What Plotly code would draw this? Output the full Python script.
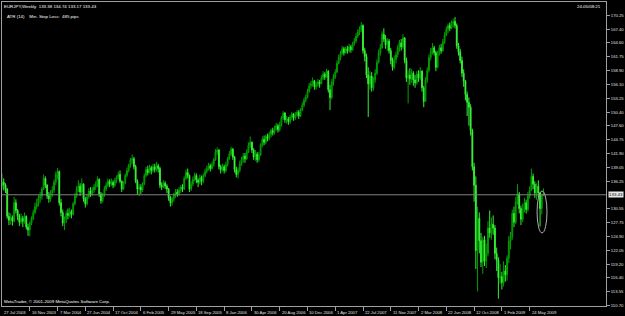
import pandas as pd
import plotly.graph_objects as go

# ---- data: EURJPY weekly candles ----
start_date = "2003-07-27"
first_open = 135.2
close = [
    136.0,135.5,134.6,129.0,128.2,128.8,128.0,131.8,130.2,129.0,
    127.8,128.6,128.0,129.0,126.8,126.2,127.6,128.5,129.8,131.0,
    131.6,132.8,133.2,134.6,136.8,135.4,133.2,132.6,133.8,134.4,
    136.0,137.6,138.2,131.8,129.8,127.6,128.4,129.6,129.2,130.0,
    129.4,131.6,133.2,134.6,135.2,134.0,135.6,132.6,131.6,133.0,
    134.2,133.6,134.4,135.0,135.6,136.6,133.6,132.2,133.4,134.6,
    135.4,136.2,135.6,136.0,135.4,136.4,137.0,137.6,136.2,134.6,
    135.8,137.4,138.4,139.4,140.6,140.8,139.2,136.2,134.6,135.0,
    134.4,135.6,137.4,138.6,138.0,139.0,138.4,139.2,138.6,139.4,
    138.8,135.4,135.0,135.8,135.2,134.6,132.8,131.8,132.6,133.4,
    134.0,133.6,134.4,135.0,134.6,136.8,138.0,137.4,134.6,135.6,
    136.6,137.4,136.4,136.0,137.0,136.2,137.4,138.2,138.8,139.4,
    138.8,139.6,140.6,142.2,142.6,139.2,138.6,139.2,138.4,139.6,
    140.8,141.8,142.8,141.2,138.6,137.6,138.4,139.8,140.6,141.4,
    140.8,142.2,143.6,144.2,142.6,141.2,141.8,140.6,141.6,143.6,
    144.8,144.2,145.4,145.0,145.8,146.6,146.2,147.0,147.6,146.8,
    147.8,149.2,150.2,148.8,149.0,148.4,149.4,150.0,149.2,149.8,
    150.4,149.6,150.8,151.8,152.8,153.4,154.6,155.8,156.2,156.8,
    155.6,156.0,156.6,156.2,157.4,158.2,157.6,158.8,155.0,153.4,
    156.6,157.6,158.6,160.4,161.6,162.4,163.4,162.6,163.4,163.0,
    163.8,163.2,164.4,165.0,166.0,166.8,167.4,168.2,163.0,161.8,
    158.0,156.2,157.8,155.4,157.0,158.4,160.6,162.6,163.6,166.4,
    165.4,164.2,165.0,163.0,161.0,159.6,161.2,162.2,163.6,164.6,
    163.8,165.6,161.0,157.4,158.0,157.2,158.4,157.0,156.4,158.2,
    157.4,158.8,155.4,152.6,157.0,159.0,161.6,162.8,163.6,162.6,
    159.6,162.4,163.6,163.0,164.8,166.2,167.4,168.2,167.6,168.6,
    169.0,168.2,164.0,162.8,161.0,158.4,156.8,154.0,152.4,151.4,
    146.6,139.2,135.4,122.0,128.6,124.0,119.6,124.2,119.8,121.4,
    126.6,125.6,127.4,126.6,121.4,120.0,116.4,116.6,115.4,117.8,
    117.0,120.4,124.0,124.8,129.6,127.8,132.0,133.6,130.6,128.4,
    130.4,131.8,130.4,133.2,134.4,137.2,135.6,133.8,135.2,133.8,
    130.6,133.38,133.43]
high = [
    137.8,136.8,135.8,134.8,129.8,129.6,129.2,133.0,132.5,130.5,
    129.5,129.6,129.1,129.8,129.2,127.5,128.0,129.0,130.4,131.8,
    132.6,133.4,134.0,135.0,137.6,137.2,135.6,134.0,134.4,135.2,
    136.6,138.2,138.9,138.4,132.6,130.4,129.0,130.2,130.6,130.8,
    130.4,132.0,133.8,135.2,136.4,135.8,136.8,135.8,133.0,133.6,
    134.8,135.0,135.0,135.6,136.2,137.2,136.8,134.0,133.8,135.2,
    136.0,136.8,136.6,136.8,136.4,136.9,137.4,138.2,138.4,136.4,
    136.2,137.8,139.0,139.8,141.0,141.7,141.2,139.6,136.6,135.6,
    135.6,136.0,137.8,139.2,139.4,139.6,139.4,139.8,139.8,140.2,
    139.8,139.2,136.0,136.4,136.2,135.6,134.8,133.2,133.0,133.8,
    134.6,134.6,135.0,135.4,135.6,137.2,138.6,138.8,137.6,136.2,
    137.2,138.0,137.8,136.8,137.6,137.4,137.8,138.8,139.4,140.0,
    139.8,140.2,141.0,142.8,143.2,142.8,139.6,139.8,139.6,140.2,
    141.2,142.4,143.3,143.0,141.4,139.2,139.0,140.4,141.2,142.0,
    142.0,142.8,144.2,145.4,144.4,143.0,142.6,142.2,142.2,144.0,
    145.4,145.6,145.8,146.0,146.4,147.0,147.2,147.6,148.2,148.0,
    148.4,149.6,150.6,150.4,149.6,149.4,149.8,150.4,150.2,150.4,
    150.8,150.8,151.2,152.4,153.4,154.0,155.2,156.4,156.8,157.5,
    157.0,156.6,157.2,157.0,158.0,158.8,158.6,159.3,159.0,156.0,
    157.2,158.2,159.2,161.0,162.2,163.0,164.0,163.8,163.8,164.0,
    164.4,164.2,164.8,165.6,166.6,167.4,168.0,168.9,168.4,163.6,
    162.4,159.6,158.8,158.6,157.6,159.2,161.2,163.2,164.4,167.0,
    167.6,166.2,165.6,165.4,163.6,161.6,162.0,162.8,164.2,165.2,
    165.4,166.4,165.8,161.6,159.0,159.4,159.2,158.8,158.0,158.8,
    159.0,159.6,159.0,155.8,157.6,159.6,162.2,163.6,164.6,164.0,
    163.0,163.0,164.2,164.4,165.4,166.8,168.0,168.6,168.8,169.2,
    169.6,169.9,168.6,164.6,163.4,161.8,159.2,157.0,154.6,153.4,
    152.0,147.0,140.0,137.2,131.0,129.8,125.6,124.8,125.0,123.4,
    128.0,130.2,128.8,129.2,127.2,122.6,120.6,119.2,117.6,119.8,
    119.0,121.0,125.0,125.8,130.4,131.0,133.0,135.6,134.0,131.2,
    131.6,132.8,132.4,134.0,135.2,138.8,137.8,136.2,135.8,136.4,
    134.0,133.6,134.74]
low = [
    134.5,134.3,133.8,128.5,127.2,127.3,127.1,127.8,129.6,128.2,
    127.0,127.4,126.8,127.5,126.3,125.0,124.9,127.2,128.2,129.4,
    130.4,131.0,131.8,132.4,134.4,134.8,132.6,131.8,132.0,133.0,
    133.8,135.4,136.6,131.2,129.0,127.0,126.2,127.6,128.4,128.8,
    128.6,129.2,131.2,132.8,134.0,133.2,133.6,132.0,130.8,131.2,
    132.6,133.0,133.2,133.8,134.4,135.0,133.0,131.6,131.8,133.0,
    134.2,135.0,135.0,135.2,134.8,135.0,135.8,136.6,135.8,134.0,
    134.4,135.6,137.0,138.0,139.0,139.8,138.6,135.8,133.4,133.2,
    133.6,134.0,135.4,137.0,137.4,137.8,137.6,138.0,138.0,138.2,
    138.0,134.8,134.4,134.8,134.6,133.8,132.2,131.0,131.2,132.0,
    132.8,133.0,133.2,133.8,134.0,134.4,136.4,136.8,134.0,134.2,
    135.2,136.2,135.8,135.0,135.6,135.4,135.8,137.0,137.8,138.4,
    138.2,138.6,139.2,140.4,141.6,138.6,137.8,138.2,137.8,138.0,
    139.2,140.6,141.4,140.6,138.0,137.0,136.8,138.0,139.4,140.0,
    140.0,140.6,142.0,143.0,142.0,140.6,140.4,140.0,140.2,141.4,
    143.2,143.6,143.8,144.4,144.6,145.2,145.6,145.8,146.6,146.2,
    146.4,147.4,148.8,148.2,148.0,147.8,148.0,148.8,148.6,148.8,
    149.4,149.0,149.4,150.6,151.4,152.4,153.2,154.4,155.2,155.6,
    155.0,155.0,155.6,155.4,156.2,157.0,157.0,157.4,154.4,150.8,
    153.0,155.8,157.2,158.4,160.2,161.0,162.2,162.0,162.4,162.4,
    162.6,162.6,163.0,164.0,164.6,165.6,166.2,166.8,162.4,160.8,
    157.4,149.4,155.0,154.6,154.8,156.4,158.0,160.4,162.0,163.4,
    164.8,163.4,163.0,162.4,160.2,158.9,159.2,160.4,161.6,162.8,
    163.0,163.4,160.4,156.6,152.2,156.0,156.4,155.8,155.4,156.0,
    156.6,157.0,154.6,151.4,152.6,156.4,158.6,161.0,162.2,162.0,
    158.8,159.4,162.0,162.4,162.8,164.4,166.0,166.6,167.0,167.4,
    167.8,167.6,163.4,162.0,160.4,157.6,155.6,152.8,149.6,147.6,
    145.6,138.4,132.0,118.2,113.6,121.4,118.6,117.2,118.8,118.4,
    120.8,124.6,124.2,125.2,120.2,117.8,112.1,115.2,114.0,114.6,
    115.6,115.8,119.4,122.2,124.2,126.8,127.4,131.4,129.6,127.2,
    127.8,129.8,129.6,130.0,132.6,134.2,134.6,132.8,132.4,133.0,
    126.9,129.4,133.17]

# right-axis price labels (133.40 is hidden behind the current-price box)
price_ticks = [170.25, 167.40, 164.60, 161.75, 158.90, 156.10, 153.25, 150.40,
               147.60, 144.75, 141.90, 139.05, 136.25, 130.55, 127.75,
               124.90, 122.05, 119.20, 116.40, 113.55, 110.70]
date_labels = ["27 Jul 2003", "16 Nov 2003", "7 Mar 2004", "27 Jun 2004",
               "17 Oct 2004", "6 Feb 2005", "29 May 2005", "18 Sep 2005",
               "8 Jan 2006", "30 Apr 2006", "20 Aug 2006", "10 Dec 2006",
               "1 Apr 2007", "22 Jul 2007", "11 Nov 2007", "2 Mar 2008",
               "22 Jun 2008", "12 Oct 2008", "1 Feb 2009", "24 May 2009"]
current_price = 133.43
header_text = "EURJPY,Weekly  133.38 134.74 133.17 133.43"
atr_text = "ATR (14)    Min. Stop Loss:  485 pips"
time_text = "24.05/08:21"
copyright_text = "MetaTrader, \u00a9 2001-2009 MetaQuotes Software Corp."

n = min(len(close), len(high), len(low))
close, high, low = close[:n], high[:n], low[:n]
opens = [first_open] + close[:-1]
dates = pd.date_range(start_date, periods=n, freq="7D")
d0 = dates[0]

FONT = "Liberation Sans"
TXT = "#e0e0e0"
AX = "#a0a0a0"

fig = go.Figure(go.Candlestick(
    x=dates, open=opens, high=high, low=low, close=close,
    increasing=dict(line=dict(color="#00a000", width=1), fillcolor="#006e00"),
    decreasing=dict(line=dict(color="#30f030", width=1), fillcolor="#a0ffa0"),
    whiskerwidth=0, showlegend=False, hoverinfo="skip",
))

tick_dates = pd.to_datetime(date_labels, format="%d %b %Y")

annotations = []
for lbl, d in zip(date_labels[1:], tick_dates[1:]):
    annotations.append(dict(x=d, xref="x", y=0, yref="paper", text=lbl,
                            showarrow=False, xanchor="left", yanchor="top",
                            yshift=-2, xshift=0, font=dict(size=4.2, color=TXT, family=FONT)))
annotations.append(dict(x=0, xref="paper", y=0, yref="paper", text=date_labels[0],
                        showarrow=False, xanchor="left", yanchor="top", yshift=-2, xshift=0,
                        font=dict(size=4.2, color=TXT, family=FONT)))
annotations += [
    dict(x=0, xref="paper", y=1, yref="paper", text=header_text, showarrow=False,
         xanchor="left", yanchor="top", xshift=0, yshift=0,
         font=dict(size=4.4, color="#ffffff", family=FONT)),
    dict(x=0, xref="paper", y=1, yref="paper", text=atr_text, showarrow=False,
         xanchor="left", yanchor="top", xshift=3, yshift=-10,
         font=dict(size=4.4, color="#ffffff", family=FONT)),
    dict(x=1, xref="paper", y=1, yref="paper", text=time_text, showarrow=False,
         xanchor="right", yanchor="top", xshift=-3, yshift=0,
         font=dict(size=4.4, color="#ffffff", family=FONT)),
    dict(x=0, xref="paper", y=0, yref="paper", text=copyright_text, showarrow=False,
         xanchor="left", yanchor="bottom", xshift=0, yshift=0,
         font=dict(size=4.4, color="#ffffff", family=FONT)),
    dict(x=1, xref="paper", y=current_price, yref="y", text=f"{current_price:.2f}",
         showarrow=False, xanchor="left", yanchor="middle", xshift=2,
         bgcolor="#e8e8e8", borderpad=0,
         font=dict(size=4.4, color="#000000", family=FONT)),
]

shapes = [
    dict(type="line", xref="paper", x0=0, x1=1, yref="y", y0=current_price, y1=current_price,
         line=dict(color="#808080", width=1)),
    dict(type="circle", xref="x", yref="y",
         x0=dates[n - 4] - pd.Timedelta(days=5), x1=dates[n - 1] + pd.Timedelta(days=14),
         y0=125.6, y1=134.2, line=dict(color="#b0b0b0", width=1)),
]

fig.update_layout(
    width=625, height=316,
    margin=dict(l=1, r=17, t=1, b=10, pad=0),
    paper_bgcolor="#000000", plot_bgcolor="#000000",
    font=dict(family=FONT, color=TXT, size=4.4),
    annotations=annotations, shapes=shapes,
    xaxis=dict(type="date", range=[d0, d0 + pd.Timedelta(days=2436)],
               showgrid=False, zeroline=False, showline=True, mirror=True,
               linecolor=AX, linewidth=1, ticks="outside", ticklen=4, tickcolor=AX,
               tickvals=list(tick_dates[1:]), showticklabels=False,
               rangeslider=dict(visible=False), fixedrange=True),
    yaxis=dict(side="right", range=[110.6, 173.0], showgrid=False, zeroline=False,
               showline=True, mirror=True, linecolor=AX, linewidth=1,
               ticks="outside", ticklen=3, tickcolor=AX,
               tickvals=price_ticks, ticktext=[f"{v:.2f}" for v in price_ticks],
               tickfont=dict(size=4.2, color=TXT, family=FONT), fixedrange=True),
)

fig.write_html("out.html")
